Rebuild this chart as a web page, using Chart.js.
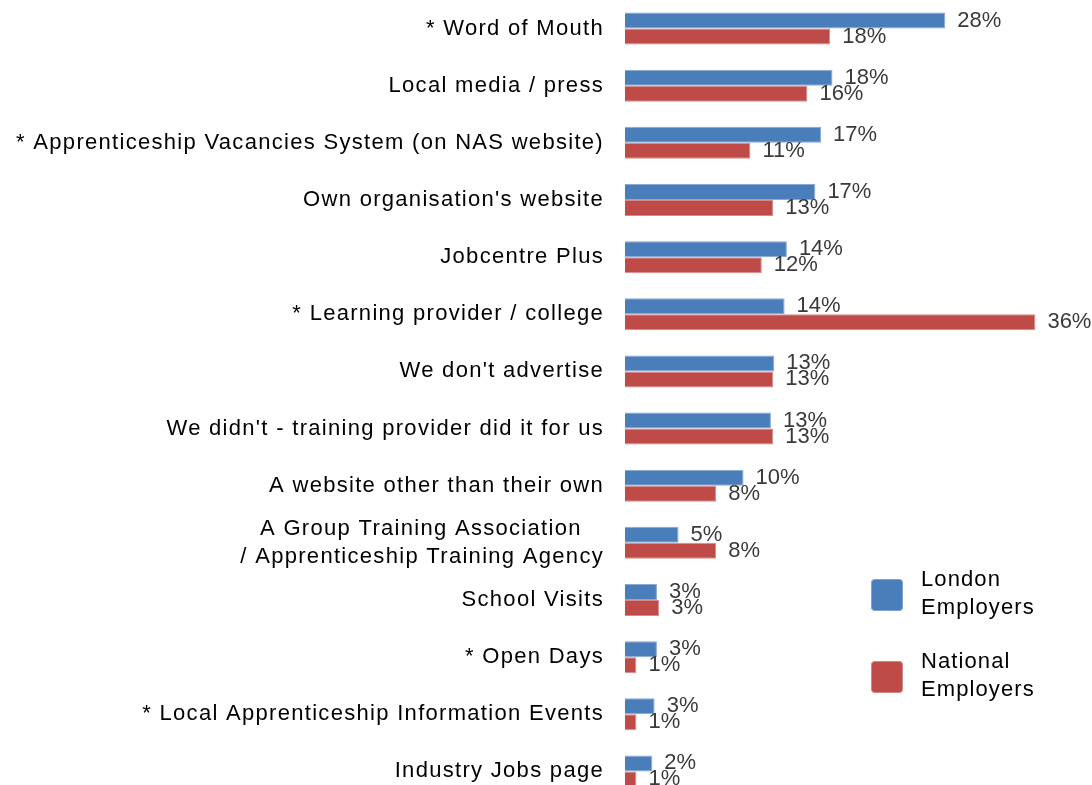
<!DOCTYPE html>
<html lang="en">
<head>
    <meta charset="UTF-8">
    <title>Advertising Apprenticeships</title>
    <style>
        html, body {
            margin: 0;
            padding: 0;
            background: #ffffff;
            overflow: hidden;
        }
        #chart {
            display: block;
        }
    </style>
</head>
<body>
    <canvas id="chart" width="1092" height="800"></canvas>

    <script src="https://cdn.jsdelivr.net/npm/chart.js"></script>
    <script>
        const categories = [
            '* Word of Mouth',
            'Local media / press',
            '* Apprenticeship Vacancies System (on NAS website)',
            "Own organisation's website",
            'Jobcentre Plus',
            '* Learning provider / college',
            "We don't advertise",
            "We didn't - training provider did it for us",
            'A website other than their own',
            ['A Group Training Association   ', '/ Apprenticeship Training Agency'],
            'School Visits',
            '* Open Days',
            '* Local Apprenticeship Information Events',
            'Industry Jobs page'
        ];
        const londonValues = [28.1, 18.2, 17.2, 16.7, 14.2, 14.0, 13.1, 12.8, 10.4, 4.7, 2.8, 2.8, 2.6, 2.4];
        const nationalValues = [18.0, 16.0, 11.0, 13.0, 12.0, 36.0, 13.0, 13.0, 8.0, 8.0, 3.0, 1.0, 1.0, 1.0];
        const seriesNames = [['London', 'Employers'], ['National', 'Employers']];

        const blue = '#4a7ebb';
        const red = '#be4b48';
        const font = 'Liberation Sans, Arial, sans-serif';

        // the original text is a little wider than plain Arial
        const wideText = {
            id: 'wideText',
            beforeDraw(chart) {
                chart.ctx.letterSpacing = '1.3px';
            }
        };

        // percentage labels to the right of each bar
        const valueLabels = {
            id: 'valueLabels',
            afterDatasetsDraw(chart) {
                const ctx = chart.ctx;
                ctx.save();
                ctx.letterSpacing = '0px';
                ctx.font = '22px ' + font;
                ctx.fillStyle = '#3a3a3a';
                ctx.textAlign = 'left';
                ctx.textBaseline = 'middle';
                chart.data.datasets.forEach((ds, i) => {
                    chart.getDatasetMeta(i).data.forEach((bar, j) => {
                        ctx.fillText(Math.round(ds.data[j]) + '%', bar.x + 12, bar.y);
                    });
                });
                ctx.restore();
            }
        };

        // legend in the lower right, two-line names
        const sideLegend = {
            id: 'sideLegend',
            afterDraw(chart) {
                const ctx = chart.ctx;
                const colors = [blue, red];
                const tops = [579, 661];
                ctx.save();
                ctx.letterSpacing = '1.1px';
                ctx.font = '22px ' + font;
                ctx.textBaseline = 'middle';
                ctx.textAlign = 'left';
                colors.forEach((c, i) => {
                    ctx.fillStyle = c;
                    ctx.strokeStyle = i === 0 ? '#7fa3d3' : '#d58583';
                    ctx.lineWidth = 1;
                    ctx.beginPath();
                    ctx.roundRect(871.5, tops[i] + 0.5, 31, 31, 3);
                    ctx.fill();
                    ctx.stroke();
                    ctx.fillStyle = '#000000';
                    ctx.fillText(seriesNames[i][0], 921, tops[i] + 1);
                    ctx.fillText(seriesNames[i][1], 921, tops[i] + 29);
                });
                ctx.restore();
            }
        };

        const canvas = document.getElementById('chart');
        canvas.getContext('2d').letterSpacing = '1.3px';

        new Chart(canvas, {
            type: 'bar',
            data: {
                labels: categories,
                datasets: [{
                    label: 'London Employers',
                    data: londonValues,
                    backgroundColor: blue,
                    borderColor: '#86a9d6',
                    borderWidth: 1,
                    borderSkipped: 'start'
                }, {
                    label: 'National Employers',
                    data: nationalValues,
                    backgroundColor: red,
                    borderColor: '#d48a88',
                    borderWidth: 1,
                    borderSkipped: 'start'
                }]
            },
            options: {
                indexAxis: 'y',
                responsive: false,
                animation: false,
                layout: {
                    padding: { top: 0, bottom: 0, left: 0, right: 11 }
                },
                datasets: {
                    bar: {
                        categoryPercentage: 0.56,
                        barPercentage: 1.0
                    }
                },
                scales: {
                    x: {
                        display: false,
                        min: 0,
                        max: 40
                    },
                    y: {
                        grid: { display: false, drawTicks: false },
                        border: { display: false },
                        ticks: {
                            padding: 21,
                            color: '#000000',
                            font: { family: font, size: 22, lineHeight: 1.28 },
                            autoSkip: false
                        },
                        afterFit(scale) {
                            scale.width = 625;
                            scale.paddingTop = 0;
                            scale.paddingBottom = 0;
                        }
                    }
                },
                plugins: {
                    legend: { display: false },
                    tooltip: { enabled: false }
                }
            },
            plugins: [wideText, valueLabels, sideLegend]
        });
    </script>
</body>
</html>
